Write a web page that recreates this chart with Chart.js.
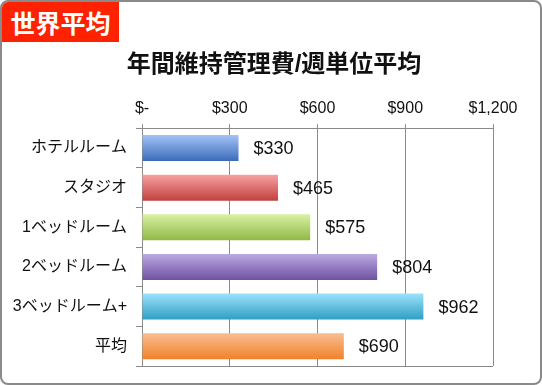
<!DOCTYPE html>
<html>
<head>
<meta charset="utf-8">
<script src="https://cdn.jsdelivr.net/npm/chart.js@4"></script>
<style>
  html, body { margin: 0; padding: 0; background: #fff; }
  .frame {
    position: relative;
    width: 542px; height: 385px;
    box-sizing: border-box;
    border: 2px solid #8a8a8a;
    border-radius: 8px;
    overflow: hidden;
  }
  .badge {
    position: absolute; left: 0; top: 0;
    width: 117px; height: 40px;
    background: #ff2200;
    color: #fff;
    font: bold 25px "Noto Sans CJK JP", sans-serif;
    line-height: 40px;
    text-align: center;
    z-index: 2;
  }
  canvas { position: absolute; left: -2px; top: -2px; }
</style>
</head>
<body>
<div class="frame">
  <div class="badge">世界平均</div>
  <canvas id="bar-chart" width="542" height="385"></canvas>
</div>
<script>
const chartTitle = '年間維持管理費/週単位平均';
const categories = ['ホテルルーム', 'スタジオ', '1ベッドルーム', '2ベッドルーム', '3ベッドルーム+', '平均'];
const values = [330, 465, 575, 804, 962, 690];
const tickValues = [0, 300, 600, 900, 1200];
// top / bottom of each bar's gradient
const topColors = ['#a3c3f7', '#f6a3a3', '#d9f1a3', '#bcaae2', '#9be2fb', '#f9bd93'];
const bottomColors = ['#3b6cb9', '#c2403f', '#91b847', '#6f52a0', '#2f9fc1', '#f0822a'];

const FONT = "'Liberation Sans', 'Noto Sans CJK JP', sans-serif";

const gradientBars = {
  id: 'gradientBars',
  beforeDatasetsDraw(chart) {
    const c = chart.ctx;
    chart.getDatasetMeta(0).data.forEach((el, i) => {
      const g = c.createLinearGradient(0, el.y - el.height / 2, 0, el.y + el.height / 2);
      g.addColorStop(0, topColors[i]);
      g.addColorStop(1, bottomColors[i]);
      el.options.backgroundColor = g;
    });
  }
};

const valueLabels = {
  id: 'valueLabels',
  afterDatasetsDraw(chart) {
    const c = chart.ctx;
    c.save();
    c.font = '18px ' + FONT;
    c.fillStyle = '#111';
    c.textBaseline = 'middle';
    c.textAlign = 'left';
    chart.getDatasetMeta(0).data.forEach((el, i) => {
      c.fillText('$' + values[i].toLocaleString('en-US'), el.x + 15, el.y + 1);
    });
    c.restore();
  }
};

// title centred on the page rather than the plot, plus the closing line under the plot
const extras = {
  id: 'extras',
  afterDraw(chart) {
    const a = chart.chartArea;
    const c = chart.ctx;
    c.save();
    c.strokeStyle = '#888';
    c.lineWidth = 1;
    c.beginPath();
    c.moveTo(a.left - 6, Math.round(a.bottom) + 0.5);
    c.lineTo(a.right, Math.round(a.bottom) + 0.5);
    c.stroke();
    c.font = 'bold 24px ' + FONT;
    c.fillStyle = '#111';
    c.textAlign = 'center';
    c.textBaseline = 'middle';
    c.fillText(chartTitle, chart.width / 2 + 3, 65);
    c.restore();
  }
};

new Chart(document.getElementById('bar-chart').getContext('2d'), {
  type: 'bar',
  data: {
    labels: categories,
    datasets: [{
      data: values,
      backgroundColor: topColors,
      borderWidth: 0,
      categoryPercentage: 0.8,
      barPercentage: 0.82
    }]
  },
  options: {
    indexAxis: 'y',
    responsive: false,
    animation: false,
    layout: { padding: { left: 5, right: 49, top: 93, bottom: 19 } },
    plugins: {
      legend: { display: false },
      tooltip: { enabled: false },
      title: { display: false }
    },
    scales: {
      x: {
        position: 'top',
        min: 0,
        max: 1200,
        afterBuildTicks(axis) { axis.ticks = tickValues.map(v => ({ value: v })); },
        ticks: {
          color: '#111',
          font: { family: FONT, size: 16 },
          padding: 6,
          callback: v => v === 0 ? '$-' : '$' + v.toLocaleString('en-US')
        },
        grid: { color: '#8a8a8a', lineWidth: 1, tickLength: 4 },
        border: { color: '#8a8a8a' }
      },
      y: {
        afterFit(axis) { axis.width = 137; },
        ticks: {
          color: '#111',
          font: { family: FONT, size: 16 },
          padding: 9
        },
        grid: { drawOnChartArea: false, color: '#8a8a8a', tickLength: 6, offset: true },
        border: { color: '#8a8a8a' }
      }
    }
  },
  plugins: [gradientBars, valueLabels, extras]
});
</script>
</body>
</html>
